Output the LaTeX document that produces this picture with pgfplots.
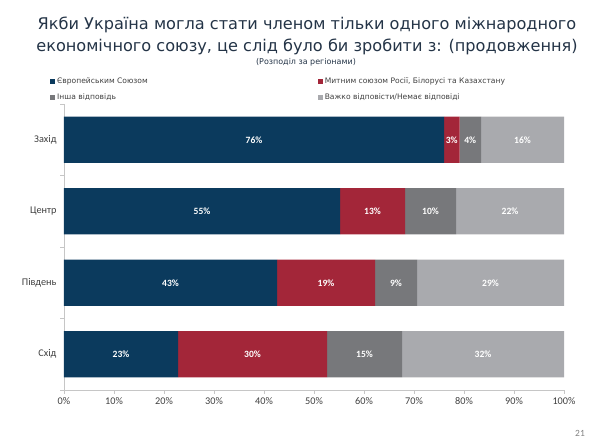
\documentclass[border=0pt]{standalone}
\usepackage{pgfplots}
\pgfplotsset{compat=1.18}
\usepackage{pgfplotstable}
\usepackage{fontspec}
\setmainfont{Carlito}
\newfontfamily\titlefont{DejaVu Sans}

\definecolor{eu}{HTML}{0B3A5D}
\definecolor{cu}{HTML}{A32639}
\definecolor{other}{HTML}{77787B}
\definecolor{dk}{HTML}{A9AAAE}
\definecolor{titlecol}{HTML}{243447}
\definecolor{labcol}{HTML}{404040}

% y: 3 = Захід, 2 = Центр, 1 = Південь, 0 = Схід
\pgfplotstableread{
y x lbl
3 76.0 76
2 55.2 55
1 42.6 43
0 22.8 23
}\eudata
\pgfplotstableread{
y x lbl
3 3.1 3
2 13.0 13
1 19.6 19
0 29.8 30
}\cudata
\pgfplotstableread{
y x lbl
3 4.3 4
2 10.2 10
1 8.4 9
0 15.0 15
}\otherdata
\pgfplotstableread{
y x lbl
3 16.6 16
2 21.6 22
1 29.4 29
0 32.4 32
}\dkdata

\begin{document}
\begin{tikzpicture}
\path[use as bounding box] (0,0) rectangle (592bp,445bp);

\node[font=\titlefont\fontsize{16.2}{19}\selectfont, text=titlecol] at (307bp,420bp)
  {Якби Україна могла стати членом тільки одного міжнародного};
\node[font=\titlefont\fontsize{16.2}{19}\selectfont, text=titlecol] at (307bp,398bp)
  {економічного союзу, це слід було би зробити з: (продовження)};
\node[font=\titlefont\fontsize{8}{10}\selectfont, text=titlecol] at (306bp,383bp)
  {(Розподіл за регіонами)};
\node[font=\fontsize{9.5}{10}\selectfont, text=gray] at (580bp,12bp) {21};

\begin{axis}[
  at={(64bp,55bp)}, anchor=south west,
  scale only axis, width=500bp, height=286bp,
  xbar stacked, bar width=0.65,
  xmin=0, xmax=100, ymin=-0.5, ymax=3.5,
  axis x line*=bottom, axis y line*=left,
  axis line style={draw=gray!45},
  xtick={0,10,...,100},
  xticklabels={0\%,10\%,20\%,30\%,40\%,50\%,60\%,70\%,80\%,90\%,100\%},
  ytick={0,1,2,3},
  yticklabels={Схід,Південь,Центр,Захід},
  minor ytick={-0.5,0.5,1.5,2.5,3.5},
  tick align=outside,
  major tick length=4bp, minor tick length=4bp,
  major y tick style={draw=none},
  major x tick style={draw=gray!45},
  minor y tick style={draw=gray!45},
  ticklabel style={font=\fontsize{10.3}{12}\selectfont, text=labcol},
  /pgf/number format/assume math mode=true,
  point meta=explicit symbolic,
  nodes near coords={\pgfplotspointmeta\%},
  every node near coord/.append style={font=\bfseries\fontsize{9.6}{11}\selectfont, text=white},
  legend columns=2,
  legend style={draw=none, fill=none, at={(-0.034,1.105)}, anchor=north west,
    font=\titlefont\fontsize{7.6}{9}\selectfont, text=labcol,
    /tikz/every even column/.append style={column sep=168bp},
    row sep=4bp},
  legend cell align=left,
  legend image code/.code={\path[#1,draw=none] (0bp,-2.5bp) rectangle (5bp,2.5bp);},
]
\addplot[fill=eu, draw=none] table[x=x, y=y, meta=lbl] {\eudata};
\addplot[fill=cu, draw=none] table[x=x, y=y, meta=lbl] {\cudata};
\addplot[fill=other, draw=none] table[x=x, y=y, meta=lbl] {\otherdata};
\addplot[fill=dk, draw=none] table[x=x, y=y, meta=lbl] {\dkdata};
\legend{Європейським Союзом, {Митним союзом Росії, Білорусі та Казахстану}, Інша відповідь, Важко відповісти/Немає відповіді}
\end{axis}
\end{tikzpicture}
\end{document}
